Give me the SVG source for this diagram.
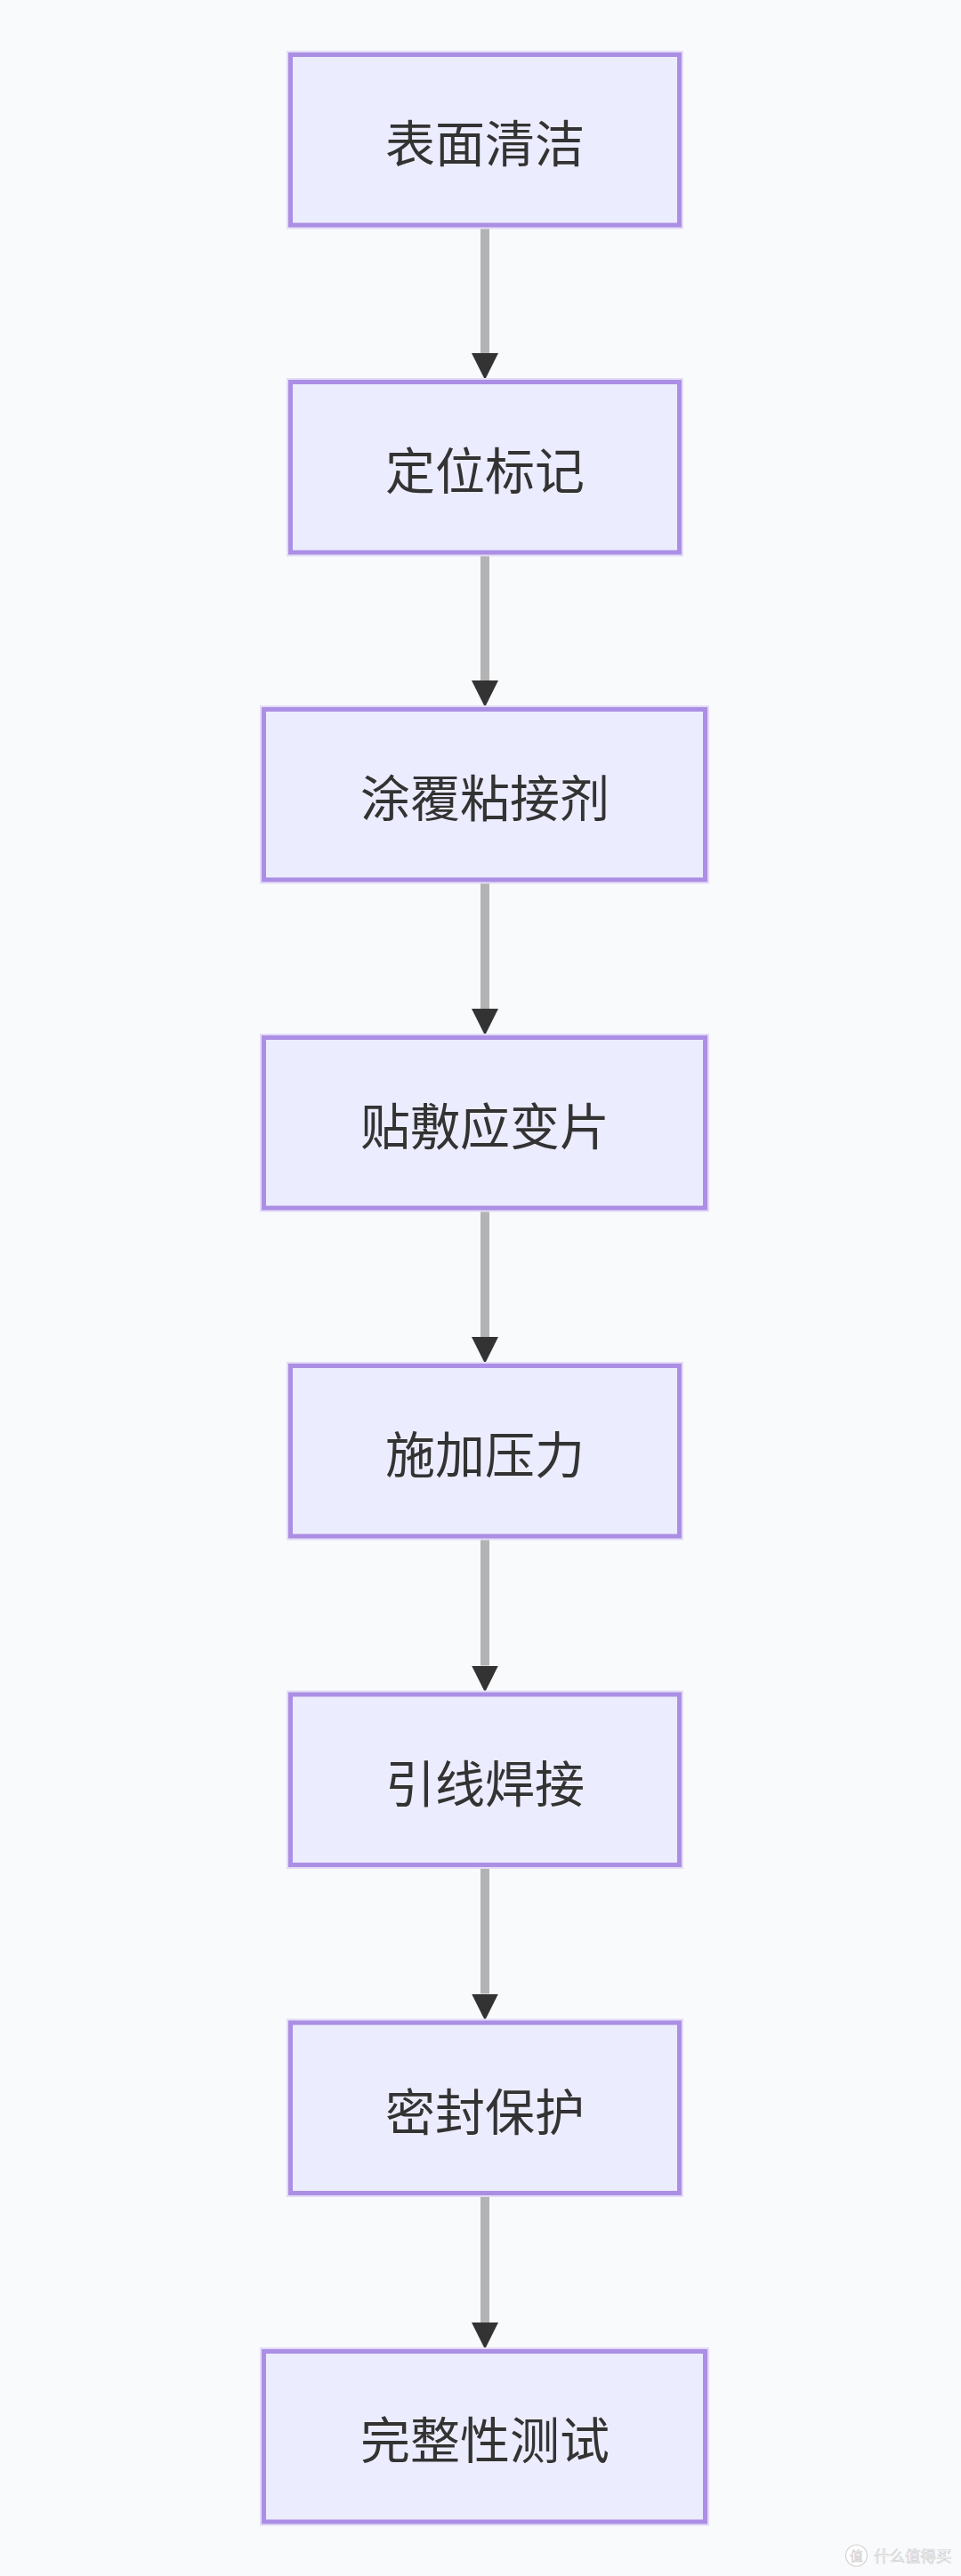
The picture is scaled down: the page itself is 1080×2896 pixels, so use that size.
<svg xmlns="http://www.w3.org/2000/svg" width="1080" height="2896" viewBox="0 0 1080 2896">
  <style>
    .box-halo { fill: none; stroke: #e4dcf6; stroke-width: 9; }
    .box { fill: #ececff; stroke: #ab8fe4; stroke-width: 5; }
    .label { font-family: "Noto Sans CJK SC", "Noto Sans", sans-serif; font-size: 56px; fill: #333333; text-anchor: middle; dominant-baseline: central; }
    .edge { stroke: #b3b3b3; stroke-width: 10; fill: none; marker-end: url(#arrow); }
    .wm { font-family: "Noto Sans CJK SC", "Noto Sans", sans-serif; fill: #ffffff; stroke: #cfcfcf; stroke-width: 0.7; }
  </style>
  <defs>
    <marker id="arrow" markerUnits="userSpaceOnUse" viewBox="0 0 30 30" refX="0" refY="15" markerWidth="30" markerHeight="30" orient="auto">
      <path d="M0,0 L30,15 L0,30 z" fill="#333333"/>
    </marker>
  </defs>
  <rect x="0" y="0" width="1080" height="2896" fill="#f9fafc"/>

  <g id="connectors">
    <line class="edge" x1="545" y1="255.5" x2="545" y2="397"/>
    <line class="edge" x1="545" y1="623.5" x2="545" y2="765"/>
    <line class="edge" x1="545" y1="991.5" x2="545" y2="1134"/>
    <line class="edge" x1="545" y1="1360.5" x2="545" y2="1503"/>
    <line class="edge" x1="545" y1="1729.5" x2="545" y2="1872.5"/>
    <line class="edge" x1="545" y1="2099" x2="545" y2="2241.5"/>
    <line class="edge" x1="545" y1="2468" x2="545" y2="2611"/>
  </g>

  <g id="node1">
    <rect class="box-halo" x="326.5" y="61.5" width="437" height="191.5"/>
    <rect class="box" x="326.5" y="61.5" width="437" height="191.5"/>
    <text class="label" x="545" y="157">表面清洁</text>
  </g>
  <g id="node2">
    <rect class="box-halo" x="326.5" y="429.5" width="437" height="191.5"/>
    <rect class="box" x="326.5" y="429.5" width="437" height="191.5"/>
    <text class="label" x="545" y="525">定位标记</text>
  </g>
  <g id="node3">
    <rect class="box-halo" x="296.5" y="797.5" width="496" height="191.5"/>
    <rect class="box" x="296.5" y="797.5" width="496" height="191.5"/>
    <text class="label" x="545" y="893">涂覆粘接剂</text>
  </g>
  <g id="node4">
    <rect class="box-halo" x="296.5" y="1166.5" width="496" height="191.5"/>
    <rect class="box" x="296.5" y="1166.5" width="496" height="191.5"/>
    <text class="label" x="545" y="1262">贴敷应变片</text>
  </g>
  <g id="node5">
    <rect class="box-halo" x="326.5" y="1535.5" width="437" height="191.5"/>
    <rect class="box" x="326.5" y="1535.5" width="437" height="191.5"/>
    <text class="label" x="545" y="1631">施加压力</text>
  </g>
  <g id="node6">
    <rect class="box-halo" x="326.5" y="1905" width="437" height="191.5"/>
    <rect class="box" x="326.5" y="1905" width="437" height="191.5"/>
    <text class="label" x="545" y="2001">引线焊接</text>
  </g>
  <g id="node7">
    <rect class="box-halo" x="326.5" y="2274" width="437" height="191.5"/>
    <rect class="box" x="326.5" y="2274" width="437" height="191.5"/>
    <text class="label" x="545" y="2370">密封保护</text>
  </g>
  <g id="node8">
    <rect class="box-halo" x="296.5" y="2643.5" width="496" height="191.5"/>
    <rect class="box" x="296.5" y="2643.5" width="496" height="191.5"/>
    <text class="label" x="545" y="2739">完整性测试</text>
  </g>

  <g id="watermark">
    <circle cx="962.5" cy="2873" r="12" fill="#ffffff" stroke="#d4d4d4" stroke-width="1.2"/>
    <text class="wm" x="962.5" y="2879" font-size="15" text-anchor="middle">值</text>
    <text class="wm" x="982" y="2879.5" font-size="17.5">什么值得买</text>
  </g>
</svg>
